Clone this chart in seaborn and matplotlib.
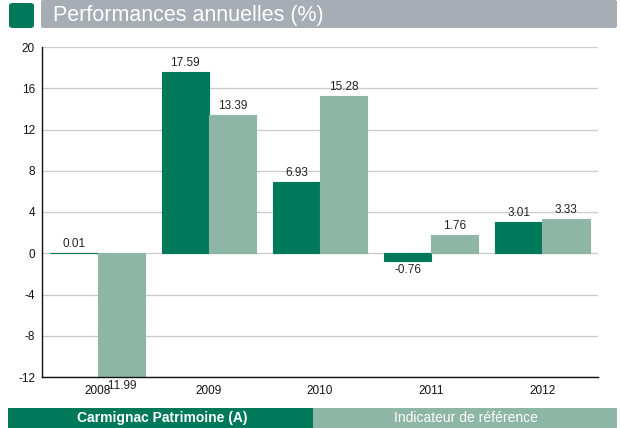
import matplotlib
matplotlib.use("Agg")
import matplotlib.pyplot as plt
import seaborn as sns
import pandas as pd
from matplotlib.patches import FancyBboxPatch, Rectangle

years = ["2008", "2009", "2010", "2011", "2012"]
fund = [0.01, 17.59, 6.93, -0.76, 3.01]
bench = [-11.99, 13.39, 15.28, 1.76, 3.33]
series_names = ["Carmignac Patrimoine (A)", "Indicateur de référence"]
yticks = [-12, -8, -4, 0, 4, 8, 12, 16, 20]

DARK = "#00785A"
LIGHT = "#8DB6A7"

df = pd.DataFrame({
    "year": years * 2,
    "value": fund + bench,
    "series": [series_names[0]] * len(years) + [series_names[1]] * len(years),
})

sns.set_theme(style="white")
plt.rcParams["font.family"] = ["Liberation Sans", "DejaVu Sans"]

fig = plt.figure(figsize=(6.21, 4.28), dpi=100)
ax = fig.add_axes([42 / 621, 1 - 377 / 428, (598 - 42) / 621, (377 - 47) / 428])

sns.barplot(data=df, x="year", y="value", hue="series", order=years,
            hue_order=series_names, palette=[DARK, LIGHT], width=0.85,
            saturation=1, ax=ax, legend=False, linewidth=0)

for c, col in zip(ax.containers, [DARK, LIGHT]):
    for p in c.patches:
        p.set_edgecolor(col)
        p.set_linewidth(0.8)
    ax.bar_label(c, labels=[f"{v:.2f}" for v in c.datavalues], padding=2,
                 fontsize=8.5, color="#222222")

ax.set_ylim(-12, 20)
ax.set_yticks(yticks)
ax.set_yticklabels([str(t) for t in yticks], fontsize=8.5, color="#111111")
ax.tick_params(axis="x", labelsize=8.5, colors="#111111", length=0, pad=6)
ax.tick_params(axis="y", length=0, pad=5)
ax.set_xlabel("")
ax.set_ylabel("")
ax.yaxis.grid(True, color="#CCCCCC", linewidth=1)
ax.set_axisbelow(True)
for s in ["top", "right"]:
    ax.spines[s].set_visible(False)
for s in ["left", "bottom"]:
    ax.spines[s].set_color("#111111")
    ax.spines[s].set_linewidth(1)

# Title banner
W, H = 621, 428
def fx(x): return x / W
def fy(y): return 1 - y / H

fig.patches.append(FancyBboxPatch((fx(9), fy(28)), fx(34) - fx(9), fy(3) - fy(28),
                                  boxstyle="round,pad=0,rounding_size=0.006",
                                  transform=fig.transFigure, facecolor=DARK,
                                  edgecolor="none"))
fig.patches.append(FancyBboxPatch((fx(41), fy(28)), fx(617) - fx(41), fy(0) - fy(28),
                                  boxstyle="round,pad=0,rounding_size=0.004",
                                  transform=fig.transFigure, facecolor="#A6ADB4",
                                  edgecolor="none"))
fig.text(fx(53), fy(15), "Performances annuelles (%)", color="white",
         fontsize=15.5, va="center", ha="left")

# Legend bar
fig.patches.append(Rectangle((fx(8), fy(428)), fx(313) - fx(8), fy(408) - fy(428),
                             transform=fig.transFigure, facecolor=DARK, edgecolor="none"))
fig.patches.append(Rectangle((fx(313), fy(428)), fx(617) - fx(313), fy(408) - fy(428),
                             transform=fig.transFigure, facecolor=LIGHT, edgecolor="none"))
fig.text(fx(162), fy(418), series_names[0], color="white", fontsize=10,
         fontweight="bold", ha="center", va="center")
fig.text(fx(466), fy(418), series_names[1], color="white", fontsize=10,
         ha="center", va="center")

fig.savefig("out.png", dpi=100)
